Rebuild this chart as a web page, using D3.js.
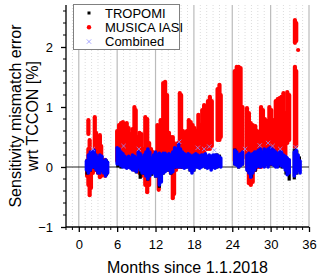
<!DOCTYPE html>
<html>
<head>
<meta charset="utf-8">
<script src="https://cdn.jsdelivr.net/npm/d3@7/dist/d3.min.js"></script>
<style>
  body { margin: 0; background: #fff; }
  text { font-family: "Liberation Sans", Arial, sans-serif; }
</style>
</head>
<body>
<svg id="chart" width="320" height="277"></svg>
<script>
// MUSICA IASI streaks: month, low, high (%)
const redMonth = [1.3,1.5,1.5,1.7,1.9,2.2,2.5,2.7,3.0,3.3,3.5,3.8,4.1,4.4,
  6.0,6.3,6.6,6.9,7.2,7.5,7.8,8.1,8.4,8.7,8.9,9.2,9.5,9.8,10.1,10.4,10.7,11.0,11.3,11.6,12.3,12.5,12.8,13.0,
  13.2,13.5,13.8,14.1,14.4,14.7,14.9,15.2,15.5,15.8,16.0,16.3,16.6,16.9,17.2,17.5,17.8,18.1,18.4,18.7,19.0,19.3,19.6,19.9,20.2,20.5,20.8,21.7,22.0,22.2,
  24.4,24.7,25.0,25.3,25.6,26.3,26.6,26.9,27.2,27.6,27.9,28.2,28.5,28.8,29.1,29.4,29.8,30.1,30.4,30.8,31.1,31.4,31.7,32.0,32.3,32.6,32.9,33.8,34.0,33.8,34.0,34.3];
const redLow = [-0.15,-0.3,0.55,-0.47,-0.35,-0.1,-0.05,-0.05,-0.1,-0.17,-0.15,-0.12,-0.15,-0.1,
  0.1,0.08,0.05,0.05,0.05,0.02,0.05,0.0,0.0,-0.05,-0.05,0.0,-0.1,-0.15,-0.1,-0.3,-0.42,-0.3,-0.1,-0.05,-0.05,-0.38,-0.2,-0.1,
  -0.05,0.0,0.0,-0.05,-0.1,-0.52,-0.45,-0.05,0.0,0.0,0.0,0.05,0.05,0.1,0.1,0.15,0.15,0.15,0.1,0.2,0.2,0.25,0.25,0.3,0.3,0.3,0.35,0.45,0.45,0.5,
  0.1,0.05,0.05,0.1,0.15,0.0,-0.27,-0.3,-0.25,-0.05,0.0,0.0,0.0,0.05,0.05,0.05,0.05,0.05,0.05,0.1,0.1,0.05,0.05,0.1,0.1,0.4,0.45,0.33,0.35,2.07,2.1,1.95];
const redHigh = [0.1,0.3,0.78,0.45,0.15,0.2,0.83,0.57,0.2,0.53,0.35,0.1,0.12,0.05,
  0.6,0.7,0.73,0.75,0.7,0.73,0.65,0.55,0.63,1.0,0.95,0.5,0.57,0.55,0.3,0.83,0.8,0.4,0.3,0.25,0.7,0.68,0.78,0.6,
  1.4,1.42,1.2,0.57,0.5,0.5,0.4,0.35,0.4,1.23,1.2,0.6,0.55,0.6,0.78,0.75,0.7,0.65,0.6,0.87,0.7,0.95,1.03,0.9,1.1,1.17,1.1,1.3,1.37,1.2,
  1.6,1.67,1.67,1.65,1.0,0.98,0.9,0.73,0.7,0.68,0.6,0.55,1.0,0.95,0.8,0.77,1.0,0.95,0.78,1.1,1.13,1.15,1.17,1.23,0.9,1.25,1.2,1.67,1.6,2.45,2.4,1.95];

// TROPOMI streaks
const blkMonth = [1.3,1.8,2.4,3.0,3.6,4.3,
  6.1,6.6,7.2,7.8,8.4,9.0,9.6,10.2,10.8,11.4,12.0,12.6,
  13.2,13.8,14.4,15.0,15.6,16.2,16.8,17.4,18.0,18.6,19.2,19.8,20.4,21.0,21.6,22.0,
  24.4,25.0,25.6,26.4,27.0,27.6,28.2,28.8,29.4,30.0,30.6,31.2,31.8,32.4,32.9,33.7,34.1,34.5];
const blkLow = [-0.1,-0.05,0.0,-0.08,-0.05,-0.12,
  0.02,0.0,0.02,0.0,-0.03,-0.08,-0.17,-0.1,-0.2,-0.12,-0.15,-0.32,
  -0.1,-0.05,-0.1,0.0,0.02,0.0,0.0,-0.05,-0.05,0.0,0.02,0.0,0.0,0.0,0.0,0.02,
  0.05,0.0,0.05,-0.05,-0.15,-0.05,0.02,0.05,0.05,0.05,0.03,0.02,0.0,-0.1,-0.2,-0.18,-0.1,-0.05];
const blkHigh = [0.1,0.2,0.22,0.15,0.15,0.1,
  0.2,0.15,0.12,0.12,0.15,0.12,0.18,0.15,0.22,0.12,0.2,0.2,
  0.2,0.15,0.18,0.28,0.28,0.2,0.18,0.15,0.15,0.18,0.15,0.18,0.15,0.15,0.2,0.18,
  0.28,0.18,0.2,0.15,0.18,0.2,0.22,0.2,0.22,0.25,0.2,0.2,0.18,0.15,0.1,0.28,0.25,0.15];

// Combined streaks
const bluMonth = [1.2,1.5,1.8,2.1,2.4,2.7,3.0,3.3,3.6,3.9,4.2,4.5,
  6.0,6.3,6.6,6.9,7.2,7.5,7.8,8.1,8.4,8.7,9.0,9.3,9.6,9.9,10.2,10.5,10.8,11.1,11.4,11.7,12.0,12.3,12.6,12.9,
  13.2,13.5,13.8,14.1,14.4,14.7,15.0,15.3,15.6,15.9,16.2,16.5,16.8,17.1,17.4,17.7,18.0,18.3,18.6,18.9,19.2,19.5,19.8,20.1,20.4,20.7,21.0,21.3,21.6,21.9,22.2,
  24.4,24.7,25.0,25.3,25.6,26.3,26.6,26.9,27.2,27.5,27.8,28.1,28.4,28.7,29.0,29.3,29.6,29.9,30.2,30.5,30.8,31.1,31.4,31.7,32.0,32.3,32.6,32.9,33.7,34.0,34.3,34.6];
const bluLow = [-0.05,-0.1,-0.05,0.0,0.0,-0.05,-0.1,-0.1,-0.05,-0.1,-0.15,-0.1,
  0.05,0.05,0.02,0.0,0.0,-0.02,0.0,-0.02,-0.05,-0.05,-0.08,0.0,-0.05,-0.1,-0.1,-0.15,-0.2,-0.15,-0.1,-0.1,-0.15,-0.15,-0.3,-0.25,
  -0.1,-0.08,-0.05,-0.05,-0.1,-0.08,0.0,0.0,0.0,0.0,0.0,-0.02,0.0,0.0,-0.05,-0.1,-0.05,0.0,0.0,-0.02,0.0,0.02,0.0,-0.02,0.0,-0.05,0.0,-0.02,0.0,0.02,0.0,
  0.05,0.03,0.0,0.02,0.05,-0.05,-0.1,-0.17,-0.1,-0.05,0.0,0.02,0.0,0.02,0.0,0.05,0.0,0.05,0.05,0.03,0.0,0.0,0.05,0.02,0.0,-0.05,-0.13,-0.1,-0.15,-0.1,-0.05,-0.1];
const bluHigh = [0.1,0.2,0.25,0.25,0.28,0.2,0.15,0.2,0.18,0.1,0.12,0.08,
  0.32,0.3,0.25,0.22,0.18,0.15,0.18,0.15,0.2,0.18,0.15,0.25,0.22,0.15,0.2,0.25,0.3,0.25,0.15,0.2,0.25,0.2,0.23,0.2,
  0.23,0.23,0.2,0.22,0.2,0.25,0.32,0.3,0.38,0.3,0.25,0.22,0.2,0.22,0.2,0.18,0.2,0.22,0.2,0.18,0.2,0.2,0.22,0.18,0.2,0.18,0.2,0.2,0.2,0.18,0.15,
  0.28,0.25,0.2,0.22,0.25,0.2,0.23,0.2,0.22,0.25,0.25,0.28,0.3,0.25,0.3,0.28,0.3,0.32,0.3,0.28,0.25,0.22,0.25,0.25,0.2,0.18,0.15,0.12,0.25,0.28,0.2,0.1];

// sparse Combined crosses outside the dense band
const xMonth = [2.2,7.0,9.4,15.7,18.6,19.6,20.4,21.2,26.0,28.3,29.6,30.3,31.5,33.9];
const xVal = [0.3,0.35,0.3,0.42,0.32,0.3,0.34,0.28,0.3,0.36,0.4,0.35,0.3,0.33];

const xTicks = [0,6,12,18,24,30,36];
const yTicks = [-1,0,1,2];
const legendNames = ["TROPOMI","MUSICA IASI","Combined"];

const svg = d3.select("#chart");
const pLeft = 66, pRight = 309, pTop = 5, pBottom = 227;

const x = d3.scaleLinear().domain([-2, 36]).range([pLeft, pRight]);
const y = d3.scaleLinear().domain([-1, 2.7]).range([pBottom, pTop]);

// minor month grid (dotted)
svg.append("g").selectAll("line")
  .data(d3.range(-1, 36).filter(m => m % 6 !== 0))
  .join("line")
  .attr("x1", d => x(d)).attr("x2", d => x(d))
  .attr("y1", pTop).attr("y2", pBottom)
  .attr("stroke", "#dcdcdc").attr("stroke-dasharray", "1,2");

// major grid
svg.append("g").selectAll("line")
  .data(xTicks)
  .join("line")
  .attr("x1", d => x(d)).attr("x2", d => x(d))
  .attr("y1", pTop).attr("y2", pBottom)
  .attr("stroke", "#bbbbbb").attr("stroke-width", 1.2);

// zero line
svg.append("line")
  .attr("x1", pLeft).attr("x2", pRight)
  .attr("y1", y(0)).attr("y2", y(0))
  .attr("stroke", "#222").attr("stroke-width", 1);

function streaks(months, lo, hi, color, w, cap) {
  svg.append("g").selectAll("line")
    .data(months.map((m, i) => ({ m: m, lo: lo[i], hi: hi[i] })))
    .join("line")
    .attr("x1", d => x(d.m)).attr("x2", d => x(d.m))
    .attr("y1", d => y(d.lo)).attr("y2", d => y(d.hi))
    .attr("stroke", color).attr("stroke-width", w)
    .attr("stroke-linecap", cap);
}

streaks(redMonth, redLow, redHigh, "#ff0000", 4.2, "round");
streaks(blkMonth, blkLow, blkHigh, "#000000", 3.2, "square");
streaks(bluMonth, bluLow, bluHigh, "#0000ff", 3.6, "round");

// sparse crosses
const cross = d3.symbol().type(d3.symbolX).size(14);
svg.append("g").selectAll("path")
  .data(xMonth.map((m, i) => [m, xVal[i]]))
  .join("path")
  .attr("d", cross)
  .attr("transform", d => `translate(${x(d[0])},${y(d[1])})`)
  .attr("fill", "none").attr("stroke", "#8f8fff").attr("stroke-width", 0.8);

// axes
const xAxis = d3.axisBottom(x).tickValues(xTicks).tickSize(5).tickFormat(d3.format("d"));
const gx = svg.append("g").attr("transform", `translate(0,${pBottom})`).call(xAxis);
gx.append("g").selectAll("line")
  .data(d3.range(-2, 36).filter(m => m % 6 !== 0))
  .join("line")
  .attr("x1", d => x(d)).attr("x2", d => x(d))
  .attr("y1", 0).attr("y2", 3).attr("stroke", "#000");

const yAxis = d3.axisLeft(y).tickValues(yTicks).tickSize(5).tickPadding(6).tickFormat(d3.format("d"));
const gy = svg.append("g").attr("transform", `translate(${pLeft},0)`).call(yAxis);
gy.append("g").selectAll("line")
  .data(d3.range(-0.8, 2.7, 0.2).filter(v => Math.abs(v - Math.round(v)) > 0.05))
  .join("line")
  .attr("x1", 0).attr("x2", -3)
  .attr("y1", d => y(d)).attr("y2", d => y(d)).attr("stroke", "#000");

[gx, gy].forEach(g => {
  g.select(".domain").attr("stroke", "#000").attr("stroke-width", 1.3);
  g.selectAll(".tick line").attr("stroke", "#000").attr("stroke-width", 1.3);
  g.selectAll(".tick text").attr("font-size", 13).attr("fill", "#000")
    .style("font-family", "'Liberation Sans', Arial, sans-serif");
});
gx.selectAll(".tick text").attr("dy", "1.05em");
gy.selectAll(".tick text").attr("dx", "-0.15em");
gx.select(".domain").attr("d", `M${pLeft},0H${pRight}`);
gy.select(".domain").attr("d", `M0,${pTop}V${pBottom}`);

// axis titles
svg.append("text")
  .attr("x", (pLeft + pRight) / 2).attr("y", 273)
  .attr("text-anchor", "middle").attr("font-size", 16)
  .text("Months since 1.1.2018");

const yt = svg.append("text")
  .attr("transform", `translate(21,${(pTop + pBottom) / 2}) rotate(-90)`)
  .attr("text-anchor", "middle").attr("font-size", 16);
yt.append("tspan").attr("x", 0).attr("dy", 0).text("Sensitivity mismatch error");
yt.append("tspan").attr("x", 0).attr("dy", 17).text("wrt TCCON [%]");

// legend
const lg = svg.append("g");
lg.append("rect")
  .attr("x", 73.5).attr("y", 4.5).attr("width", 106).attr("height", 45)
  .attr("fill", "#fff").attr("stroke", "#808080").attr("stroke-width", 1);
const rows = lg.selectAll("g.row").data(legendNames).join("g")
  .attr("transform", (d, i) => `translate(0,${13 + i * 14.3})`);
rows.append("text").attr("x", 105).attr("y", 4.5).attr("font-size", 13).text(d => d);
rows.filter((d, i) => i === 0).append("rect")
  .attr("x", 87.5).attr("y", -1.5).attr("width", 3).attr("height", 3).attr("fill", "#000");
rows.filter((d, i) => i === 1).append("circle")
  .attr("cx", 89).attr("cy", 0).attr("r", 2.2).attr("fill", "#ff0000");
rows.filter((d, i) => i === 2).append("path")
  .attr("d", cross).attr("transform", "translate(89,0)")
  .attr("fill", "none").attr("stroke", "#8f8fff").attr("stroke-width", 0.8);
</script>
</body>
</html>
